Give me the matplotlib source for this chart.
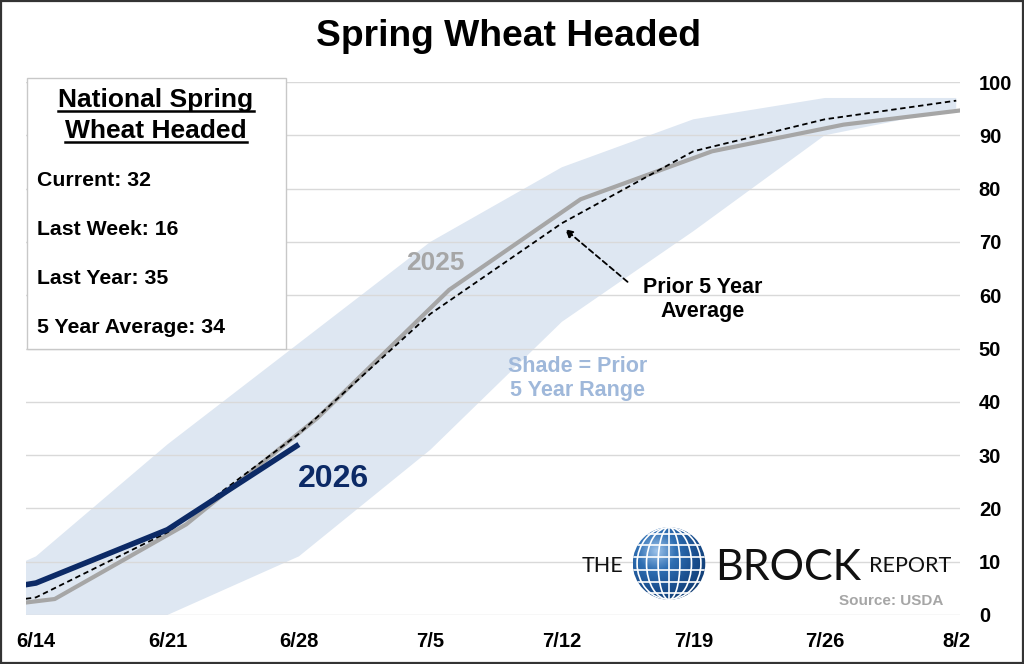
import numpy as np
import pandas as pd
import matplotlib
matplotlib.use("Agg")
import matplotlib.pyplot as plt
from matplotlib.patches import Rectangle, Circle, Ellipse
from matplotlib.lines import Line2D

plt.rcParams['font.family'] = ['Liberation Sans', 'DejaVu Sans']

# ---------------- data ----------------
dates_2026 = ["2026-06-07", "2026-06-14", "2026-06-21", "2026-06-28"]
vals_2026 = [2, 6, 16, 32]

# 2025 report dates shown on the 2026 calendar
dates_2025 = ["2026-06-08", "2026-06-15", "2026-06-22", "2026-06-29", "2026-07-06",
              "2026-07-13", "2026-07-20", "2026-07-27", "2026-08-03"]
vals_2025 = [0, 3, 17, 37, 61, 78, 87, 92, 95]

dates_avg = ["2026-06-07", "2026-06-14", "2026-06-21", "2026-06-28", "2026-07-05",
             "2026-07-12", "2026-07-19", "2026-07-26", "2026-08-02"]
vals_avg = [0, 3.3, 15.5, 34, 56.5, 73.5, 87, 93, 96.5]
range_low = [0, 0, 0, 11, 31, 55, 72, 90, 95]
range_high = [0, 11, 32, 51, 70, 84, 93, 97, 97]

tick_dates = ["2026-06-14", "2026-06-21", "2026-06-28", "2026-07-05",
              "2026-07-12", "2026-07-19", "2026-07-26", "2026-08-02"]
tick_labels = ["6/14", "6/21", "6/28", "7/5", "7/12", "7/19", "7/26", "8/2"]
y_ticks = [0, 10, 20, 30, 40, 50, 60, 70, 80, 90, 100]

box_title = ["National Spring", "Wheat Headed"]
box_items = ["Current: 32", "Last Week: 16", "Last Year: 35", "5 Year Average: 34"]

# ---------------- figure ----------------
W, H = 1024, 664
fig = plt.figure(figsize=(W / 100, H / 100), dpi=100)
fig.patch.set_facecolor("white")

def fx(px):
    return px / W

def fy(py):
    return 1 - py / H

ax = fig.add_axes([fx(26), fy(615), fx(960) - fx(26), fy(82) - fy(615)])

d26 = pd.to_datetime(dates_2026)
d25 = pd.to_datetime(dates_2025)
dav = pd.to_datetime(dates_avg)

ax.fill_between(dav, range_low, range_high, color="#dee7f2", lw=0, zorder=0.4)
ax.plot(d25, vals_2025, color="#a6a6a6", lw=3, zorder=3, solid_capstyle="butt")
ax.plot(dav, vals_avg, color="black", lw=1.3, ls=(0, (3, 2)), zorder=4)
ax.plot(d26, vals_2026, color="#0c2a66", lw=4, zorder=5, solid_capstyle="butt")

start = pd.Timestamp("2026-06-14")
ax.set_xlim(start - pd.Timedelta(days=0.53), start + pd.Timedelta(days=49.2))
ax.set_ylim(0, 100)

ax.set_xticks(pd.to_datetime(tick_dates))
ax.set_xticklabels(tick_labels, fontsize=14.5, fontweight="bold")
ax.set_yticks(y_ticks)
ax.set_yticklabels([str(v) for v in y_ticks], fontsize=14.5, fontweight="bold")
ax.yaxis.tick_right()
ax.tick_params(axis="both", length=0)
ax.tick_params(axis="x", pad=12)
ax.tick_params(axis="y", pad=13.5)
for s in ax.spines.values():
    s.set_visible(False)
ax.set_axisbelow(True)
ax.yaxis.grid(True, color="#d9d9d9", lw=1)
ax.xaxis.grid(False)

# annotations in data space
ax.text(pd.Timestamp("2026-07-05 06:00"), 66, "2025", fontsize=19, fontweight="bold",
        color="#a6a6a6", ha="center", va="center", zorder=6)
ax.text(pd.Timestamp("2026-06-29 20:00"), 25.5, "2026", fontsize=23, fontweight="bold",
        color="#0c2a66", ha="center", va="center", zorder=6)
ax.text(pd.Timestamp("2026-07-19 12:00"), 59.2, "Prior 5 Year\nAverage", fontsize=15.5,
        fontweight="bold", color="black", ha="center", va="center", linespacing=1.15, zorder=6)
ax.text(pd.Timestamp("2026-07-12 20:00"), 44.4, "Shade = Prior\n5 Year Range", fontsize=15.5,
        fontweight="bold", color="#9fb8da", ha="center", va="center", linespacing=1.15, zorder=6)
ax.annotate("", xy=(pd.Timestamp("2026-07-12 04:00"), 72.4),
            xytext=(pd.Timestamp("2026-07-15 12:00"), 62.5),
            arrowprops=dict(arrowstyle="-|>", color="black", lw=1.3, ls=(0, (3, 2)),
                            mutation_scale=12, shrinkA=0, shrinkB=0), zorder=6)

# title
fig.text(fx(508), fy(36), "Spring Wheat Headed", fontsize=26.8, fontweight="bold",
         ha="center", va="center")

# stat box
fig.patches.append(Rectangle((fx(27), fy(349)), fx(286) - fx(27), fy(78) - fy(349),
                             transform=fig.transFigure, facecolor="white",
                             edgecolor="#c8c8c8", lw=1, zorder=10))
t1 = fig.text(fx(156), fy(107), box_title[0], fontsize=19, fontweight="bold",
              ha="center", va="baseline", zorder=11)
t2 = fig.text(fx(156), fy(138), box_title[1], fontsize=19, fontweight="bold",
              ha="center", va="baseline", zorder=11)
for i, item in enumerate(box_items):
    fig.text(fx(37), fy(186 + 49 * i), item, fontsize=15.3, fontweight="bold",
             ha="left", va="baseline", zorder=11)

# logo
fig.text(fx(582), fy(572), "THE", fontsize=15.5, family="Lato", ha="left", va="baseline",
         color="#111111")
fig.text(fx(715), fy(580), "BROCK", fontsize=31, family="Lato", ha="left", va="baseline",
         color="#111111")
fig.text(fx(869), fy(572), "REPORT", fontsize=15.5, family="Lato", ha="left", va="baseline",
         color="#111111")
fig.text(fx(943), fy(601), "Source: USDA", fontsize=11, fontweight="bold", color="#a6a6a6",
         ha="right", va="center")

gax = fig.add_axes([fx(632), fy(601), fx(706) - fx(632), fy(526) - fy(601)])
gax.set_xlim(-1.02, 1.02)
gax.set_ylim(-1.02, 1.02)
gax.axis("off")
yy, xx = np.mgrid[-1:1:200j, -1:1:200j]
rr = np.sqrt((xx + 0.35) ** 2 + (yy - 0.35) ** 2)
img = gax.imshow(rr, extent=(-1, 1, -1, 1), origin="lower",
                 cmap=matplotlib.colors.LinearSegmentedColormap.from_list(
                     "g", ["#9ec3ea", "#2f6fb3", "#1a4f8f", "#103a6e"]),
                 vmin=0, vmax=1.6, zorder=1)
circ = Circle((0, 0), 1, transform=gax.transData)
img.set_clip_path(circ)
for w in [0.3, 0.62, 0.88]:
    e = Ellipse((0, 0), 2 * w, 2, fill=False, edgecolor="white", lw=1.2, zorder=2)
    gax.add_patch(e)
    e.set_clip_path(circ)
for yl in [-0.8, -0.5, -0.18, 0.18, 0.5, 0.8]:
    l = Line2D([-1, 1], [yl, yl], color="white", lw=1.2, zorder=2)
    gax.add_line(l)
    l.set_clip_path(circ)
l = Line2D([0, 0], [-1, 1], color="white", lw=1.2, zorder=2)
gax.add_line(l)
l.set_clip_path(circ)

# underline the box title
fig.canvas.draw()
r = fig.canvas.get_renderer()
for t, base in [(t1, 107), (t2, 138)]:
    bb = t.get_window_extent(renderer=r)
    yline = fy(base + 3.5)
    fig.lines.append(Line2D([bb.x0 / W, bb.x1 / W], [yline, yline], transform=fig.transFigure,
                            color="black", lw=1.8, zorder=12))

# outer frame
fig.patches.append(Rectangle((0.0008, 0.0012), 0.9984, 0.9976, transform=fig.transFigure,
                             fill=False, edgecolor="#333333", lw=1.6, zorder=20))

fig.savefig("out.png", dpi=100)
